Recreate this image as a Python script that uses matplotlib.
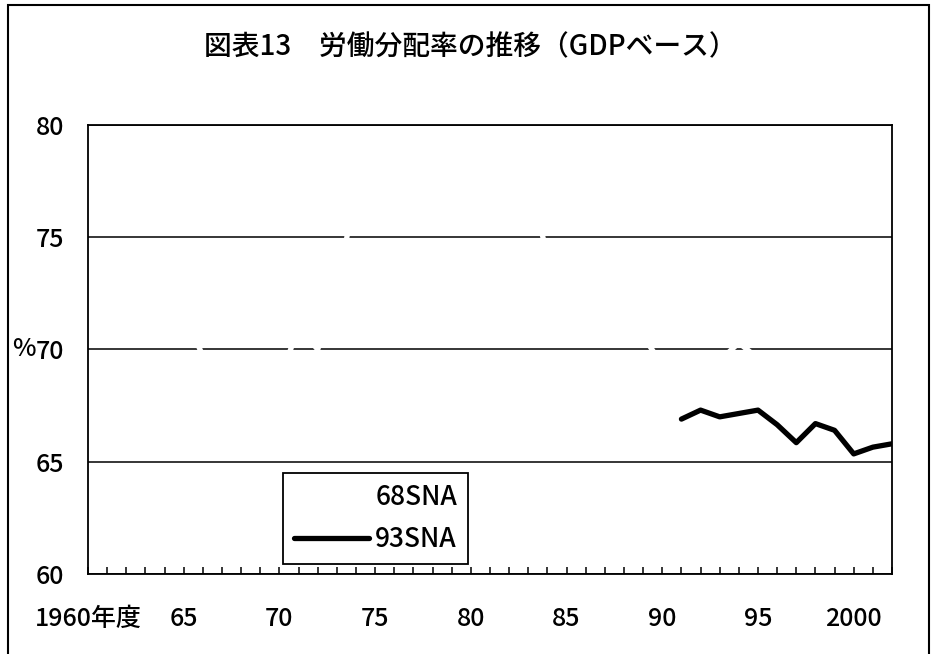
import matplotlib
matplotlib.use("Agg")
import matplotlib.pyplot as plt
from matplotlib.patches import Rectangle
from matplotlib.transforms import blended_transform_factory

plt.rcParams['font.family'] = ['Noto Sans CJK JP', 'DejaVu Sans']
plt.rcParams['font.weight'] = 'medium'

# 労働分配率（GDPベース, %）
years_68 = list(range(1960, 1999))
share_68 = [74.6, 74.2, 73.8, 73.0, 72.6, 71.7, 69.7, 68.3, 67.5, 67.6,
            68.6, 71.0, 70.0, 72.6, 77.2, 78.2, 78.0, 78.3, 77.4, 76.8,
            76.5, 77.2, 77.6, 77.6, 74.2, 73.6, 73.4, 72.8, 71.8, 70.6,
            69.3, 69.0, 69.3, 69.5, 70.3, 69.6, 69.2, 68.9, 69.4]

years_93 = list(range(1991, 2003))
share_93 = [66.9, 67.3, 67.0, 67.15, 67.3, 66.65, 65.85, 66.7, 66.4, 65.35,
            65.65, 65.8]

all_years = list(range(1960, 2003))
label_years = [1960, 1965, 1970, 1975, 1980, 1985, 1990, 1995, 2000]
label_text = ['1960年度', '65', '70', '75', '80', '85', '90', '95', '2000']
yticks = [60, 65, 70, 75, 80]

fig = plt.figure(figsize=(9.4, 6.54), dpi=100, facecolor='w')
ax = fig.add_axes([88/940, 80/654, 804/940, 449/654])

# 68SNA is drawn in white, so it only shows where it cuts the grid
ax.plot(years_68, share_68, color='white', lw=3.8, solid_joinstyle='round',
        solid_capstyle='round', label='68SNA', zorder=2)
ax.plot(years_93, share_93, color='black', lw=3.8, solid_joinstyle='round',
        solid_capstyle='round', label='93SNA', zorder=3)

ax.set_xlim(1960, 2002)
ax.set_ylim(60, 80)

ax.set_yticks(yticks)
ax.set_yticklabels([str(v) for v in yticks], fontsize=18)
ax.tick_params(axis='y', length=0, pad=17)
ax.yaxis.grid(True, color='black', lw=1.1)

ax.set_xticks(all_years)
ax.set_xticklabels([label_text[label_years.index(y)] if y in label_years else ''
                    for y in all_years], fontsize=18)
ax.tick_params(axis='x', direction='in', length=5, width=1.1, pad=23)

for s in ax.spines.values():
    s.set_linewidth(1.3)
    s.set_color('black')

tr = blended_transform_factory(ax.transAxes, ax.transData)
ax.text(-52/804, 70, '%', transform=tr, ha='right', va='center', fontsize=18)

leg = ax.legend(loc='upper left', bbox_to_anchor=(283/940, 1 - 473/654),
                bbox_transform=fig.transFigure, fontsize=19, frameon=True,
                fancybox=False, shadow=False, borderaxespad=0, borderpad=0.4,
                handlelength=2.85, handletextpad=0.25, labelspacing=0.6)
leg.get_frame().set_edgecolor('black')
leg.get_frame().set_linewidth(1.3)
leg.get_frame().set_alpha(1)

fig.text(0.5, 1 - 47/654, '図表13　労働分配率の推移（GDPベース）',
         ha='center', va='center', fontsize=20)

# outer frame of the chart area
fig.patches.append(Rectangle((8/940, -0.05), 921/940, 1.05 - 5/654,
                             transform=fig.transFigure, fill=False,
                             edgecolor='black', lw=1.5))

fig.savefig('out.png', dpi=100)
